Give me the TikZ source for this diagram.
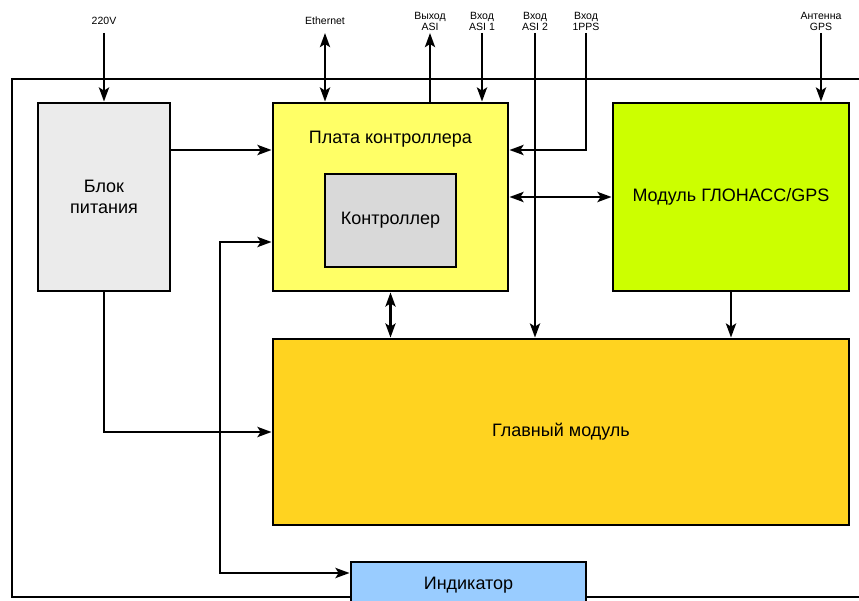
\documentclass[tikz,border=0pt]{standalone}
\usepackage{fontspec}
\setmainfont{Liberation Sans}
\usetikzlibrary{arrows.meta,shadows}
\definecolor{powfill}{HTML}{EBEBEB}
\definecolor{platafill}{HTML}{FFFF66}
\definecolor{ctrlfill}{HTML}{D9D9D9}
\definecolor{gpsfill}{HTML}{CCFF00}
\definecolor{mainfill}{HTML}{FFD320}
\definecolor{indfill}{HTML}{99CCFF}
\begin{document}
\begin{tikzpicture}[x=1pt,y=-1pt,
  box/.style={draw=black, line width=2.8pt, rectangle, inner sep=0pt, align=center,
    font=\fontsize{18}{21}\selectfont,
    drop shadow={shadow xshift=1.2pt, shadow yshift=-1.2pt, fill=black!45, opacity=0.6}},
  lbl/.style={align=center, inner sep=0pt, font=\fontsize{10.5}{11}\selectfont},
  conn/.style={line width=2.8pt, draw=black},
  tip/.style={-{Stealth[inset=3pt,length=14pt,width=10pt]}},
  dtip/.style={{Stealth[inset=3pt,length=14pt,width=10pt]}-{Stealth[inset=3pt,length=14pt,width=10pt]}}
]
\useasboundingbox (0,0) rectangle (859,601);
\clip (0,0) rectangle (859,601);
\fill[white] (0,0) rectangle (859,601);

% outer frame
\draw[conn] (880,79) -- (12,79) -- (12,597) -- (880,597);

% boxes
\node[box, fill=powfill, minimum width=132pt, minimum height=188pt] (pow) at (104,197) {Блок\\питания};
\node[box, fill=platafill, minimum width=235pt, minimum height=188pt] (plata) at (390.5,197) {};
\node[font=\fontsize{18}{21}\selectfont] (platalbl) at (390.5,139) {Плата контроллера};
\node[box, fill=ctrlfill, minimum width=131pt, minimum height=93pt] (ctrl) at (390.5,220.5) {Контроллер};
\node[box, fill=gpsfill, minimum width=236pt, minimum height=188pt] (gps) at (731,197) {Модуль ГЛОНАСС/GPS};
\node[box, fill=mainfill, minimum width=576pt, minimum height=186pt] (main) at (561,432) {Главный модуль};
\node[box, fill=indfill, minimum width=235pt, minimum height=46pt] (ind) at (468.5,585) {Индикатор};

% top labels
\node[lbl] (l220) at (104,21) {220V};
\node[lbl] (leth) at (325,21) {Ethernet};
\node[lbl] (lasio) at (430,21) {Выход\\ASI};
\node[lbl] (lasi1) at (482,21) {Вход\\ASI 1};
\node[lbl] (lasi2) at (535,21) {Вход\\ASI 2};
\node[lbl] (lpps) at (586,21) {Вход\\1PPS};
\node[lbl] (lant) at (821,21) {Антенна\\GPS};

\coordinate (t220) at (104,33);
\coordinate (teth) at (325,33);
\coordinate (tasio) at (430,33);
\coordinate (tasi1) at (482,33);
\coordinate (tasi2) at (535,33);
\coordinate (tpps) at (586,33);
\coordinate (tant) at (821,33);

% connectors from top
\draw[conn, tip] (t220) -- (pow.north);
\draw[conn, dtip] (teth) -- (teth |- plata.north);
\draw[conn, tip] (tasio |- plata.north) -- (tasio);
\draw[conn, tip] (tasi1) -- (tasi1 |- plata.north);
\draw[conn, tip] (tasi2) -- (tasi2 |- main.north);
\draw[conn, tip] (tpps) |- (plata.east |- 0,150);
\draw[conn, tip] (tant) -- (tant |- gps.north);

% internal connectors
\draw[conn, tip] (pow.east |- 0,150) -- (plata.west |- 0,150);
\draw[conn, dtip] (plata.east) -- (gps.west);
\draw[conn, tip] (pow.south) |- (main.west);
\draw[conn, dtip] (plata.west |- 0,242) -| (220,573) -- (ind.west |- 0,573);
\draw[conn, dtip] (plata.south) -- (plata.south |- main.north);
\draw[conn, tip] (gps.south) -- (gps.south |- main.north);
\end{tikzpicture}
\end{document}
